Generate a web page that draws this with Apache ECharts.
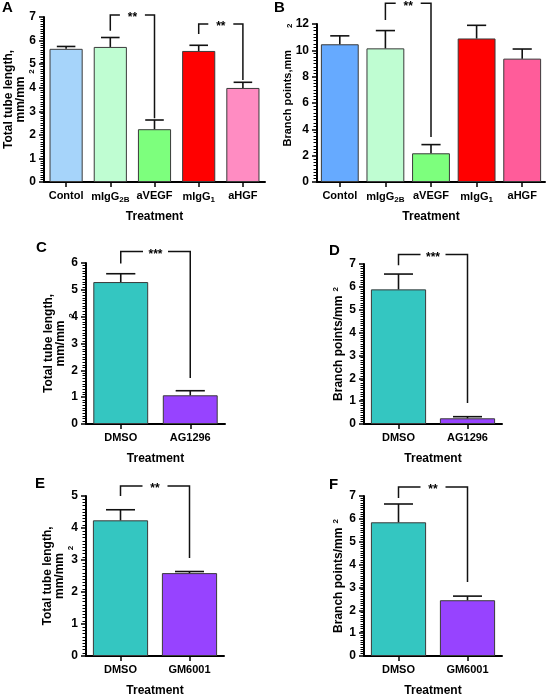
<!DOCTYPE html>
<html><head><meta charset="utf-8">
<script src="https://cdn.jsdelivr.net/npm/echarts@6/dist/echarts.min.js"></script>
<style>html,body{margin:0;padding:0;background:#fff}#c{width:547px;height:698px}</style>
</head><body><div id="c"></div>
<script>
// ---------- data ----------
const categoriesA = ['Contol', 'mIgG2B', 'aVEGF', 'mIgG1', 'aHGF'];
const meansA = [5.65, 5.73, 2.24, 5.56, 3.99];
const semA   = [0.10, 0.40, 0.39, 0.24, 0.24];
const ticksA = [0, 1, 2, 3, 4, 5, 6, 7];
const bracketsA = [[1, 2, 6.42, 7.09, 2.70, '**'], [3, 4, 6.28, 6.70, 4.33, '**']];

const categoriesB = ['Contol', 'mIgG2B', 'aVEGF', 'mIgG1', 'aHGF'];
const meansB = [10.46, 10.15, 2.18, 10.90, 9.37];
const semB   = [0.64, 1.35, 0.66, 1.00, 0.73];
const ticksB = [0, 2, 4, 6, 8, 10, 12];
const bracketsB = [[1, 2, 12.3, 13.58, 3.42, '**']];

const categoriesC = ['DMSO', 'AG1296'];
const meansC = [5.29, 1.07];
const semC   = [0.31, 0.17];
const ticksC = [0, 1, 2, 3, 4, 5, 6];
const bracketsC = [[0, 1, 5.98, 6.43, 1.71, '***']];

const categoriesD = ['DMSO', 'AG1296'];
const meansD = [5.89, 0.25];
const semD   = [0.67, 0.07];
const ticksD = [0, 1, 2, 3, 4, 5, 6, 7];
const bracketsD = [[0, 1, 6.94, 7.42, 0.92, '***']];

const categoriesE = ['DMSO', 'GM6001'];
const meansE = [4.24, 2.59];
const semE   = [0.33, 0.05];
const ticksE = [0, 1, 2, 3, 4, 5];
const bracketsE = [[0, 1, 5.00, 5.31, 3.06, '**']];

const categoriesF = ['DMSO', 'GM6001'];
const meansF = [5.85, 2.44];
const semF   = [0.80, 0.18];
const ticksF = [0, 1, 2, 3, 4, 5, 6, 7];
const bracketsF = [[0, 1, 6.91, 7.39, 3.24, '**']];

// ---------- styles ----------
const colorsA = ['#a6d4fa', '#bffdd2', '#7dff7d', '#ff0000', '#ff8cc2'];
const colorsB = ['#66aaff', '#bffdd2', '#7dff7d', '#ff0000', '#ff5c9a'];
const colorsCF = ['#34c6c1', '#9743ff'];
const FONT = '"Liberation Sans", Arial, sans-serif';

const panels = [
  { letter: 'A', cats: categoriesA, means: meansA, sem: semA, ticks: ticksA, br: bracketsA, colors: colorsA,
    grid: { left: 44, right: 282, top: 17, bottom: 516 }, gap: '25%', minor: 10,
    yName: 'Total tube length,\n{u|mm/mm}\n{s|2}', yGap: 8, title: [2, 0] },
  { letter: 'B', cats: categoriesB, means: meansB, sem: semB, ticks: ticksB, br: bracketsB, colors: colorsB,
    grid: { left: 317, right: 2, top: 24, bottom: 516 }, gap: '17%', minor: 8,
    yName: '{p|}Branch points,mm{s|2}', yGap: 23, title: [274, 0], bName: true },
  { letter: 'C', cats: categoriesC, means: meansC, sem: semC, ticks: ticksC, br: bracketsC, colors: colorsCF,
    grid: { left: 86, right: 322, top: 263, bottom: 274 }, gap: '21%', minor: 10,
    yName: 'Total tube length,\n{u|mm/mm}\n{s|2}', yGap: 10, title: [36, 240] },
  { letter: 'D', cats: categoriesD, means: meansD, sem: semD, ticks: ticksD, br: bracketsD, colors: colorsCF,
    grid: { left: 364, right: 45, top: 264, bottom: 274 }, gap: '20%', minor: 10,
    yName: 'Branch points/mm{t|2}', yGap: 19, title: [329, 243] },
  { letter: 'E', cats: categoriesE, means: meansE, sem: semE, ticks: ticksE, br: bracketsE, colors: colorsCF,
    grid: { left: 86, right: 323, top: 496, bottom: 42 }, gap: '20%', minor: 10,
    yName: 'Total tube length,\n{u|mm/mm}\n{s|2}', yGap: 11, title: [35, 476] },
  { letter: 'F', cats: categoriesF, means: meansF, sem: semF, ticks: ticksF, br: bracketsF, colors: colorsCF,
    grid: { left: 364, right: 45, top: 496, bottom: 42 }, gap: '20%', minor: 10,
    yName: 'Branch points/mm{t|2}', yGap: 19, title: [329, 477] }
];

const grids = [], xAxes = [], yAxes = [], series = [], titles = [];

function catFormatter(v) {
  const m = /^mIgG(.+)$/.exec(v);
  return m ? '{n|mIgG}{sub|' + m[1] + '}' : '{n|' + v + '}';
}

panels.forEach((p, i) => {
  grids.push(Object.assign({ outerBoundsMode: 'none' }, p.grid));
  titles.push({ text: p.letter, left: p.title[0], top: p.title[1], padding: 0,
    textStyle: { fontFamily: FONT, fontWeight: 'bold', fontSize: 15, color: '#000' } });
  xAxes.push({
    type: 'category', gridIndex: i, data: p.cats,
    axisLine: { show: true, lineStyle: { color: '#000', width: 2 } },
    axisTick: { show: true, alignWithLabel: true, length: 5, lineStyle: { color: '#000', width: 1.5 } },
    axisLabel: { margin: 8, formatter: catFormatter, interval: 0,
      rich: { n: { fontFamily: FONT, fontWeight: 'bold', fontSize: 11, color: '#000' },
              sub: { fontFamily: FONT, fontWeight: 'bold', fontSize: 8, color: '#000', padding: [6, 0, 0, 0] } } },
    name: 'Treatment', nameLocation: 'middle', nameGap: 29, nameMoveOverlap: false,
    nameTextStyle: { fontFamily: FONT, fontWeight: 'bold', fontSize: 12, color: '#000' }
  });
  const t = p.ticks;
  yAxes.push({
    type: 'value', gridIndex: i, min: t[0], max: t[t.length - 1], interval: t[1] - t[0],
    axisLine: { show: true, lineStyle: { color: '#000', width: 2 } },
    axisTick: { show: true, length: 5, lineStyle: { color: '#000', width: 1.5 } },
    minorTick: { show: true, splitNumber: p.minor, length: 3.5, lineStyle: { color: '#000', width: 1 } },
    splitLine: { show: false }, minorSplitLine: { show: false },
    axisLabel: { margin: 8, fontFamily: FONT, fontWeight: 'bold', fontSize: 12, color: '#000' },
    name: p.yName, nameLocation: 'middle', nameRotate: 90, nameGap: p.yGap, nameMoveOverlap: false,
    nameTextStyle: {
      fontFamily: FONT, fontWeight: 'bold', fontSize: p.bName ? 11 : 12, color: '#000', lineHeight: 12,
      rich: {
        u: { fontFamily: FONT, fontWeight: 'bold', fontSize: 12, color: '#000', lineHeight: 12 },
        s: { fontFamily: FONT, fontWeight: 'bold', fontSize: 8, color: '#000', lineHeight: 9, padding: p.bName ? [4, 0, 0, 22] : [0, 0, 0, 56] },
        t: { fontFamily: FONT, fontWeight: 'bold', fontSize: 8, color: '#000', padding: [0, 0, 6, 4] },
        p: { padding: [0, 0, 0, 36] }
      }
    }
  });
  series.push({
    type: 'bar', xAxisIndex: i, yAxisIndex: i, barCategoryGap: p.gap,
    data: p.means.map((v, k) => ({ value: v, itemStyle: { color: p.colors[k] } })),
    itemStyle: { borderColor: '#3a3a3a', borderWidth: 1 }, silent: true
  });
  series.push({
    type: 'custom', xAxisIndex: i, yAxisIndex: i, encode: { x: 0, y: 1 }, silent: true, z: 5,
    data: p.means.map((v, k) => [k, v, p.sem[k]]),
    renderItem: (params, api) => {
      const x = api.value(0), m = api.value(1), s = api.value(2);
      const base = api.coord([x, m]), top = api.coord([x, m + s]);
      const hw = api.size([1, 0])[0] * 0.21;
      const st = { stroke: '#111', lineWidth: 1.6 };
      return { type: 'group', children: [
        { type: 'line', shape: { x1: base[0], y1: base[1], x2: top[0], y2: top[1] }, style: st },
        { type: 'line', shape: { x1: top[0] - hw, y1: top[1], x2: top[0] + hw, y2: top[1] }, style: st }
      ] };
    }
  });
  series.push({
    type: 'custom', xAxisIndex: i, yAxisIndex: i, encode: { x: 0, y: 3 }, silent: true, z: 6, clip: false,
    data: p.br.map(b => b.slice(0, 5)),
    renderItem: (params, api) => {
      const a = api.value(0), b = api.value(1);
      const p1 = api.coord([a, api.value(2)]), p2 = api.coord([a, api.value(3)]);
      const p3 = api.coord([b, api.value(3)]), p4 = api.coord([b, api.value(4)]);
      const mid = (p2[0] + p3[0]) / 2, g = 12.5;
      const st = { stroke: '#111', lineWidth: 1.5, fill: null };
      return { type: 'group', children: [
        { type: 'polyline', shape: { points: [p1, p2, [mid - g, p2[1]]] }, style: st },
        { type: 'polyline', shape: { points: [[mid + g, p3[1]], p3, p4] }, style: st },
        { type: 'text', x: mid, y: p2[1] + 3, style: { text: p.br[params.dataIndex][5], fill: '#000',
          font: 'bold 12px ' + FONT, align: 'center', verticalAlign: 'middle' } }
      ] };
    }
  });
});

const chart = echarts.init(document.getElementById('c'), null, { renderer: 'canvas' });
chart.setOption({
  animation: false, backgroundColor: '#fff',
  title: titles, grid: grids, xAxis: xAxes, yAxis: yAxes, series: series
});
</script></body></html>
